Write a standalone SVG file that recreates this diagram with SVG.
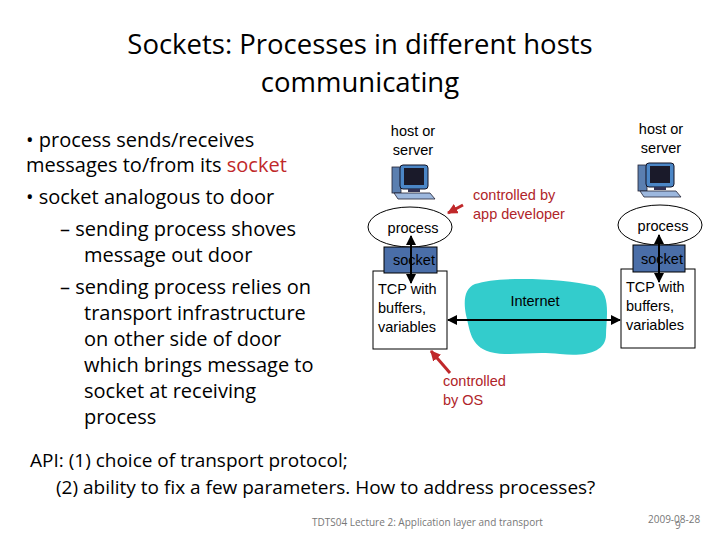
<svg xmlns="http://www.w3.org/2000/svg" width="720" height="540" viewBox="0 0 720 540">
<style>
.t{font-family:"Open Sans","Liberation Sans",sans-serif;fill:#000}
.a{font-family:"Liberation Sans",Arial,sans-serif;font-size:14.5px;fill:#000}
.r{font-family:"Liberation Sans",Arial,sans-serif;font-size:14.5px;fill:#b0252a}
.ln{stroke:#000;stroke-width:2;fill:none}
.rl{stroke:#c0282a;stroke-width:3;fill:none}
.box{fill:#fff;stroke:#000;stroke-width:1}
.sock{fill:#4a6ea8;stroke:#000;stroke-width:1}
.ft{font-family:"Open Sans","Liberation Sans",sans-serif;font-size:10px;fill:#777}
</style>
<defs>
<marker id="ah" viewBox="0 0 10 10" refX="9" refY="5" markerWidth="5" markerHeight="5" orient="auto-start-reverse"><path d="M0,0L10,5L0,10z" fill="#000"/></marker>
<marker id="rh" viewBox="0 0 10 10" refX="9" refY="5" markerWidth="3.5" markerHeight="3.5" orient="auto"><path d="M0,0L10,5L0,10z" fill="#c0282a"/></marker>
<g id="pc">
<rect x="0" y="2" width="9" height="26" fill="#5b7fb0" stroke="#223" stroke-width="0.8"/>
<rect x="8" y="0" width="28" height="24" rx="3" fill="#4b86c6" stroke="#112" stroke-width="1"/>
<rect x="12" y="3" width="20" height="17" fill="#1a1a2a"/>
<rect x="16" y="24" width="12" height="3" fill="#335"/>
<path d="M2,28L38,28L43,34L6,34z" fill="#9db8de" stroke="#223" stroke-width="0.8"/>
</g>
</defs>
<rect width="720" height="540" fill="#fff"/>
<g id="title" class="t" font-size="27.5" text-anchor="middle">
<text x="360" y="54">Sockets: Processes in different hosts</text>
<text x="360" y="92">communicating</text>
</g>
<g id="bullets" class="t" font-size="20">
<text x="26" y="147">• process sends/receives</text>
<text x="26" y="172">messages to/from its <tspan fill="#c0282a">socket</tspan></text>
<text x="26" y="204">• socket analogous to door</text>
<text x="60" y="236">– sending process shoves</text>
<text x="84" y="262">message out door</text>
<text x="60" y="294">– sending process relies on</text>
<text x="84" y="320">transport infrastructure</text>
<text x="84" y="346">on other side of door</text>
<text x="84" y="372">which brings message to</text>
<text x="84" y="398">socket at receiving</text>
<text x="84" y="424">process</text>
</g>
<g id="api" class="t" font-size="19">
<text x="30" y="467">API: (1) choice of transport protocol;</text>
<text x="56" y="494">(2) ability to fix a few parameters. How to address processes?</text>
</g>
<g id="cloud"><path d="M475,284C500,276 560,278 595,286C612,292 606,320 606,335C606,352 585,357 560,354C530,351 510,357 490,352C470,346 470,330 466,315C463,300 465,288 475,284z" fill="#33cccc"/>
<text class="a" x="535" y="306" text-anchor="middle">Internet</text></g>
<g id="hostL">
<text class="a" x="413" y="136" text-anchor="middle">host or</text>
<text class="a" x="413" y="155" text-anchor="middle">server</text>
<use href="#pc" x="392" y="165"/>
<ellipse cx="410" cy="227" rx="42" ry="20" fill="#fff" stroke="#000"/>
<text class="a" x="413" y="233" text-anchor="middle">process</text>
<rect class="box" x="373" y="271" width="74" height="78"/>
<rect class="sock" x="384" y="247" width="53" height="26"/>
<text class="a" x="414" y="265" text-anchor="middle">socket</text>
<text class="a" x="378" y="294">TCP with</text>
<text class="a" x="378" y="313">buffers,</text>
<text class="a" x="378" y="332">variables</text>
</g>
<g id="hostR">
<text class="a" x="661" y="134" text-anchor="middle">host or</text>
<text class="a" x="661" y="153" text-anchor="middle">server</text>
<use href="#pc" x="638" y="163"/>
<ellipse cx="660" cy="225" rx="42" ry="20" fill="#fff" stroke="#000"/>
<text class="a" x="663" y="231" text-anchor="middle">process</text>
<rect class="box" x="621" y="269" width="74" height="79"/>
<rect class="sock" x="633" y="245" width="52" height="27"/>
<text class="a" x="662" y="264" text-anchor="middle">socket</text>
<text class="a" x="626" y="292">TCP with</text>
<text class="a" x="626" y="311">buffers,</text>
<text class="a" x="626" y="330">variables</text>
</g>
<g id="labels">
<text class="r" x="473" y="200">controlled by</text>
<text class="r" x="473" y="219">app developer</text>
<text class="r" x="443" y="386">controlled</text>
<text class="r" x="443" y="405">by OS</text>
</g>
<g id="connectors">
<line class="ln" x1="448" y1="320" x2="620" y2="320" marker-start="url(#ah)" marker-end="url(#ah)"/>
<line class="ln" x1="411" y1="236" x2="411" y2="283" marker-start="url(#ah)" marker-end="url(#ah)"/>
<line class="ln" x1="659" y1="235" x2="659" y2="282" marker-start="url(#ah)" marker-end="url(#ah)"/>
<line class="rl" x1="463" y1="205" x2="448" y2="213" marker-end="url(#rh)"/>
<line class="rl" x1="450" y1="373" x2="431" y2="351" marker-end="url(#rh)"/>
</g>
<g id="footer">
<text class="ft" x="648" y="523">2009-08-28</text>
<text class="ft" x="675" y="529">9</text>
<text class="ft" x="312" y="526">TDTS04 Lecture 2: Application layer and transport</text>
</g>
</svg>
